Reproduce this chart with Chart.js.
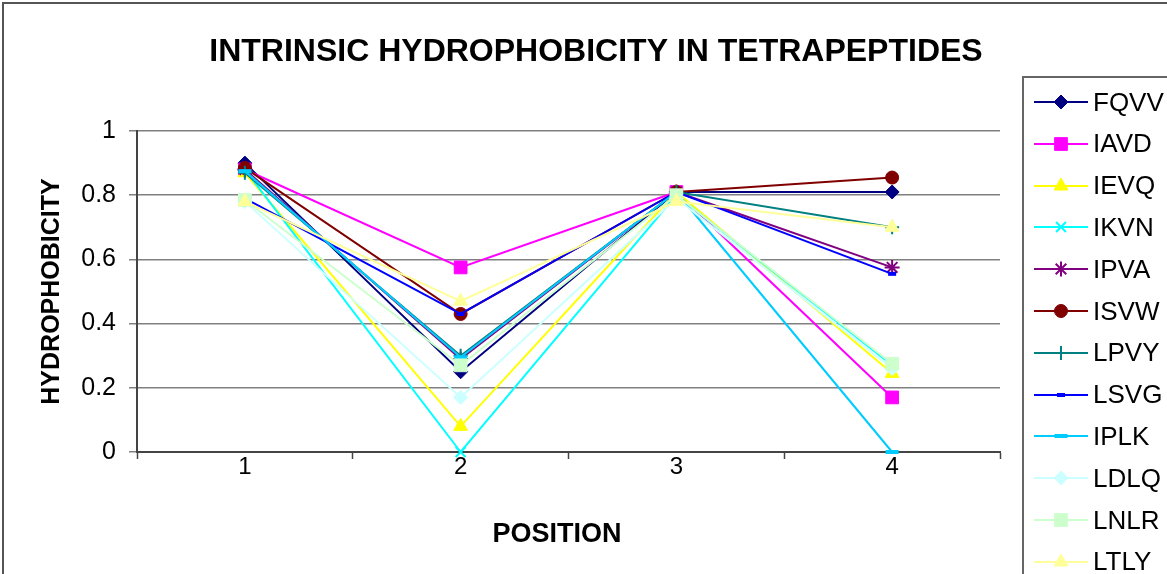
<!DOCTYPE html>
<html>
<head>
<meta charset="utf-8">
<script src="https://cdn.jsdelivr.net/npm/chart.js@4"></script>
<style>
html, body { margin: 0; padding: 0; background: #fff; overflow: hidden; }
#wrap { position: relative; width: 1167px; height: 574px; }
#frame { position: absolute; left: 2px; top: 2px; width: 1200px; height: 620px; border: 2px solid #555; box-sizing: border-box; }
#chart { position: absolute; left: 0; top: 0; }
#legend { position: absolute; left: 1022px; top: 76px; width: 180px; height: 560px; border: 2px solid #666; background: #fff; box-sizing: border-box; }
.item { position: absolute; left: 8px; height: 30px; display: flex; align-items: center; font: 26px "Liberation Sans", Arial, sans-serif; color: #000; }
.item canvas { margin-right: 5px; }
</style>
</head>
<body>
<div id="wrap">
  <div id="frame"></div>
  <canvas id="chart" width="1167" height="574"></canvas>
  <div id="legend"></div>
</div>
<script>
// chart data
const chartTitle = 'INTRINSIC HYDROPHOBICITY IN TETRAPEPTIDES';
const xTitle = 'POSITION';
const yTitle = 'HYDROPHOBICITY';
const positions = ['1', '2', '3', '4'];
const yTickLabels = ['0', '0.2', '0.4', '0.6', '0.8', '1'];
const seriesNames = ['FQVV', 'IAVD', 'IEVQ', 'IKVN', 'IPVA', 'ISVW', 'LPVY', 'LSVG', 'IPLK', 'LDLQ', 'LNLR', 'LTLY'];

const FQVV = [0.90, 0.25, 0.81, 0.81];
const IAVD = [0.88, 0.575, 0.81, 0.17];
const IEVQ = [0.87, 0.08, 0.81, 0.245];
const IKVN = [0.88, 0.0, 0.80, 0.27];
const IPVA = [0.88, 0.29, 0.81, 0.575];
const ISVW = [0.885, 0.43, 0.81, 0.855];
const LPVY = [0.87, 0.30, 0.81, 0.70];
const LSVG = [0.79, 0.43, 0.81, 0.555];
const IPLK = [0.875, 0.295, 0.81, 0.0];
const LDLQ = [0.78, 0.17, 0.79, 0.26];
const LNLR = [0.785, 0.27, 0.80, 0.275];
const LTLY = [0.78, 0.47, 0.78, 0.70];
const seriesValues = [FQVV, IAVD, IEVQ, IKVN, IPVA, ISVW, LPVY, LSVG, IPLK, LDLQ, LNLR, LTLY];

// look of each series (Excel style markers)
const colors = ['#000080', '#FF00FF', '#FFFF00', '#00FFFF', '#800080', '#800000', '#008080', '#0000FF', '#00CCFF', '#CCFFFF', '#CCFFCC', '#FFFF99'];
const markers = ['rectRot', 'rect', 'triangle', 'crossRot', 'star', 'circle', 'cross', 'line', 'line', 'rectRot', 'rect', 'triangle'];
const markerSize = [7, 9, 8, 7, 7.5, 6.5, 7, 4, 6.5, 7, 9, 8];
const markerBorder = [1, 1, 1, 2, 2, 1, 2, 4, 4, 1, 1, 1];

const FONT = '"Liberation Sans", Arial, sans-serif';

const datasets = seriesNames.map((name, i) => ({
  label: name,
  data: seriesValues[i],
  borderColor: colors[i],
  backgroundColor: colors[i],
  borderWidth: 2,
  pointStyle: markers[i],
  pointRadius: markerSize[i],
  pointHoverRadius: markerSize[i],
  pointBorderWidth: markerBorder[i],
  pointBorderColor: colors[i],
  pointBackgroundColor: colors[i],
  tension: 0,
  clip: false,
  order: -i
}));

// chart title and x axis title sit where Excel put them
const textPlugin = {
  id: 'chartTexts',
  afterDraw(chart) {
    const c = chart.ctx;
    c.save();
    c.fillStyle = '#000';
    c.textAlign = 'center';
    c.textBaseline = 'middle';
    c.font = 'bold 32px ' + FONT;
    c.fillText(chartTitle, 596, 52);
    c.font = 'bold 27px ' + FONT;
    c.fillText(xTitle, 557, 535);
    c.restore();
  }
};

new Chart(document.getElementById('chart'), {
  type: 'line',
  data: { labels: positions, datasets: datasets },
  plugins: [textPlugin],
  options: {
    responsive: false,
    animation: false,
    layout: { padding: { left: 30, top: 131, right: 167, bottom: 10 } },
    plugins: {
      legend: { display: false },
      title: { display: false },
      tooltip: { enabled: false }
    },
    scales: {
      x: {
        offset: true,
        afterFit(scale) { scale.height = 112; },
        grid: { offset: true, drawOnChartArea: false, drawTicks: true, tickLength: 7, tickColor: '#444', tickWidth: 1.5 },
        border: { display: true, color: '#444', width: 2 },
        ticks: { color: '#000', font: { family: FONT, size: 24, lineHeight: 1 }, padding: -4 },
        title: { display: false }
      },
      y: {
        min: 0,
        max: 1,
        afterFit(scale) { scale.width = 107; },
        grid: { color: '#808080', lineWidth: 1.5, drawTicks: true, tickLength: 8, tickColor: '#808080' },
        border: { display: true, color: '#444', width: 2 },
        ticks: {
          stepSize: 0.2,
          color: '#000',
          font: { family: FONT, size: 25 },
          padding: 13,
          callback: (v, idx) => yTickLabels[idx]
        },
        title: { display: true, text: yTitle, color: '#000', font: { family: FONT, size: 25, weight: 'bold', lineHeight: 1.2 }, padding: { top: 7, bottom: 0 } }
      }
    }
  }
});

// legend like the Excel one: line with marker, then name
const legend = document.getElementById('legend');
seriesNames.forEach((name, i) => {
  const row = document.createElement('div');
  row.className = 'item';
  row.style.top = (9 + i * 41.8) + 'px';
  const cv = document.createElement('canvas');
  cv.width = 56; cv.height = 30;
  const c = cv.getContext('2d');
  c.strokeStyle = colors[i];
  c.fillStyle = colors[i];
  c.lineWidth = 2;
  c.beginPath(); c.moveTo(2, 15); c.lineTo(56, 15); c.stroke();
  if (Chart.helpers && Chart.helpers.drawPoint) {
    c.lineWidth = markerBorder[i];
    Chart.helpers.drawPoint(c, { pointStyle: markers[i], radius: markerSize[i], rotation: 0, borderWidth: markerBorder[i] }, 29, 15);
  }
  row.appendChild(cv);
  const txt = document.createElement('span');
  txt.textContent = name;
  row.appendChild(txt);
  legend.appendChild(row);
});
</script>
</body>
</html>
